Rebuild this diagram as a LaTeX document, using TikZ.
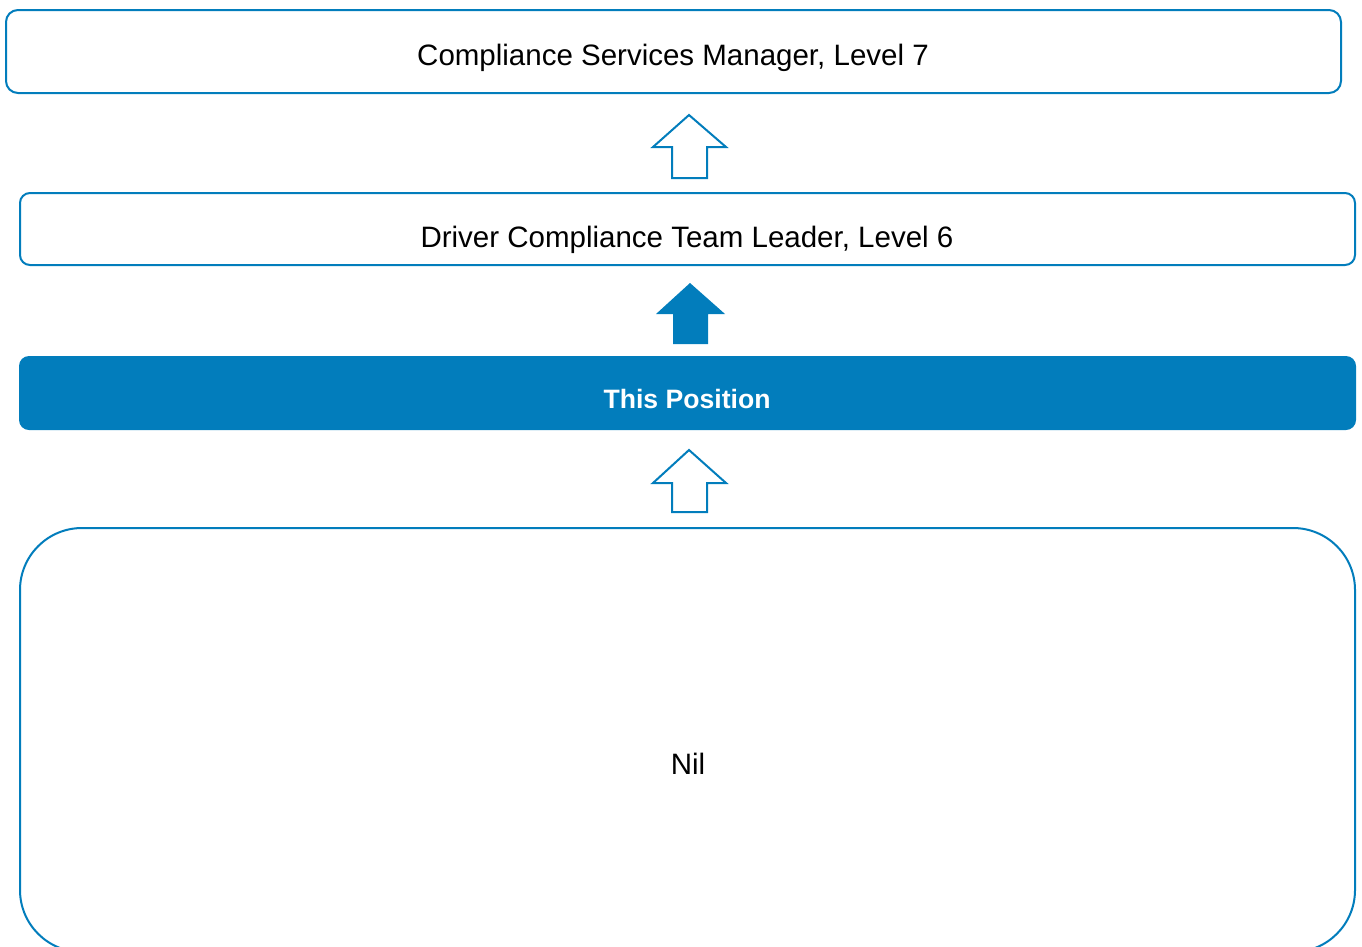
\documentclass[tikz,border=0pt]{standalone}
\usepackage{fontspec}
\setmainfont{Liberation Sans}
\definecolor{cblue}{HTML}{027DBC}
\begin{document}
\begin{tikzpicture}[x=1pt,y=-1pt,
  box/.style={draw=cblue,line width=2pt,fill=white},
  lbl/.style={font=\fontsize{29.5}{34}\selectfont,text=black,inner sep=0pt},
  uparrowline/.style={draw=cblue,line width=2pt,fill=white,line join=miter},
  uparrowfill/.style={fill=cblue}]
\useasboundingbox (0,0) rectangle (1362,946);
\begin{scope}
\clip (0,0) rectangle (1362,946);
\draw[box,rounded corners=12] (6,10) rectangle (1341,93);
\draw[box,rounded corners=10] (20,193) rectangle (1355,265);
\fill[cblue,rounded corners=10] (19,356) rectangle (1356,430);
\draw[box,rounded corners=62] (20,528) rectangle (1355,952);
\end{scope}
\node[lbl] (n1) at (673,58) {Compliance Services Manager, Level 7};
\node[lbl] (n2) at (687,240) {Driver Compliance Team Leader, Level 6};
\node[lbl,text=white,font=\fontsize{26.6}{31}\selectfont\bfseries] (n3) at (687,399) {This Position};
\node[lbl] (n4) at (688,764) {Nil};
\draw[uparrowline] (689,115) -- (726,147) -- (707,147) -- (707,178) -- (672,178) -- (672,147) -- (653,147) -- cycle;
\fill[uparrowfill] (690,283) -- (725,314) -- (708,314) -- (708,344) -- (673,344) -- (673,314) -- (656,314) -- cycle;
\draw[uparrowline] (689,450) -- (726,483) -- (707,483) -- (707,512) -- (672,512) -- (672,483) -- (653,483) -- cycle;
\end{tikzpicture}
\end{document}
